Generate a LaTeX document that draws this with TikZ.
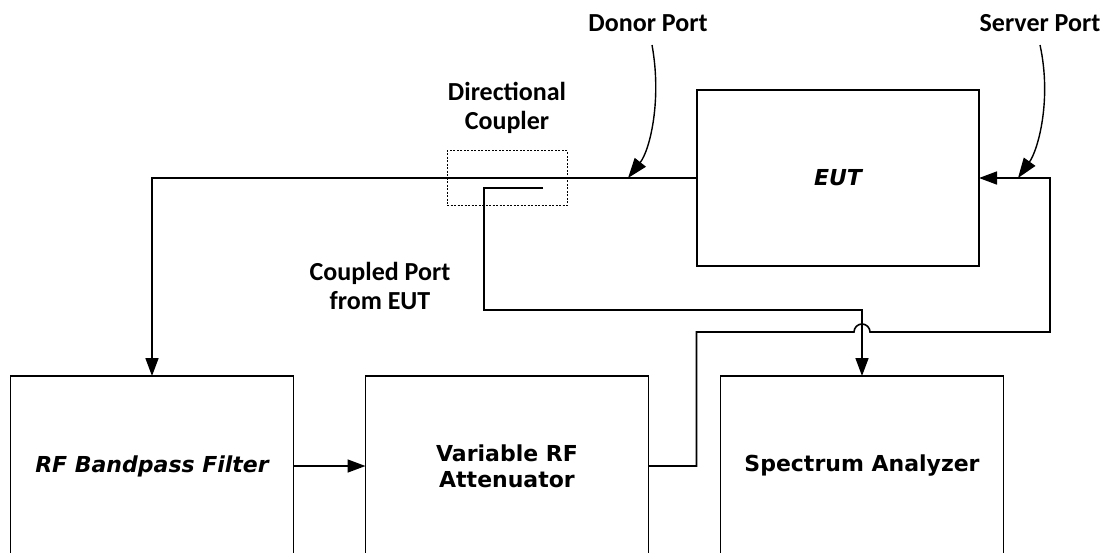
\documentclass[tikz,border=0pt]{standalone}
\usepackage{fontspec}
\setmainfont{Carlito}
\newfontfamily\boxfont{DejaVu Sans}
\usetikzlibrary{arrows.meta,positioning,calc}

\begin{document}
\begin{tikzpicture}[x=1pt,y=-1pt,
  blk/.style={draw,line width=1.6pt,outer sep=0pt,minimum width=283pt,minimum height=180pt,
    font=\boxfont\bfseries\fontsize{22}{26}\selectfont,align=center},
  lbl/.style={font=\bfseries\fontsize{26}{29}\selectfont,align=center,inner sep=0pt},
  wire/.style={line width=1.6pt},
  arr/.style={wire,-{Triangle[length=18pt,width=13pt]}},
  port/.style={line width=1.4pt,-{Triangle[length=20pt,width=14pt]}}]
\useasboundingbox (0,0) rectangle (1107,552);
\clip (0,0) rectangle (1107,552);
% boxes
\node[blk] (filter) at (152,466) {\itshape RF Bandpass Filter};
\node[blk] (atten) at (507,466) {Variable RF\\Attenuator};
\node[blk] (analyzer) at (862,466) {Spectrum Analyzer};
\node[blk,minimum width=282pt,minimum height=176pt] (eut) at (838,178) {\itshape EUT};
\node[draw,line width=0.9pt,dash pattern=on 2pt off 1.5pt,minimum width=120pt,minimum height=55pt] (coupler) at (507,178) {};
% labels
\node[lbl,above=16pt of coupler] (couplerlbl) {Directional\\Coupler};
\node[lbl] (coupledlbl) at (380,286) {Coupled Port\\from EUT};
\node[lbl] (donorlbl) at (648,23) {Donor Port};
\node[lbl] (serverlbl) at (1040,23) {Server Port};
% bends
\coordinate (cpin) at (543,188);
\coordinate (cpbend) at (484,310);
\coordinate (srvturn) at (1050,178);
\coordinate (donorpt) at (628,178);
\coordinate (serverpt) at (1018,178);
% connectors
\draw[arr] (eut.west) -| (filter.north);
\draw[arr] (filter.east) -- (atten.west);
\draw[arr] (cpin) -| (cpbend) -| (analyzer.north);
\draw[arr] (atten.east) -- ++(48,0) |- ($(analyzer.north)+(-8,-44)$)
  arc[start angle=180,end angle=360,radius=8] -| (srvturn) -- (eut.east);
\draw[port] (652,45) .. controls (662,100) and (650,150) .. (donorpt);
\draw[port] (1040,45) .. controls (1052,100) and (1038,150) .. (serverpt);
\end{tikzpicture}
\end{document}
